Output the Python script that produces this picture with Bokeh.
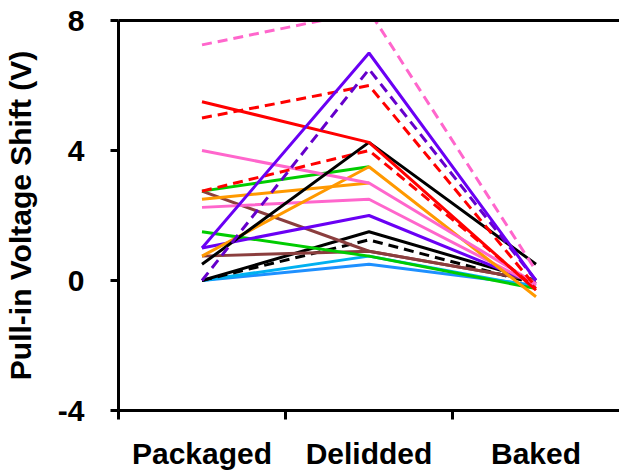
import math
from bokeh.plotting import figure
from bokeh.models import FixedTicker, LinearAxis, Range1d
from bokeh.embed import file_html
from bokeh.resources import INLINE

# ---- data -------------------------------------------------------------
categories = ["Packaged", "Delidded", "Baked"]
y_ticks = [-4, 0, 4, 8]
y_tick_labels = ["-4", "0", "4", "8"]
NaN = float("nan")

pink_dashed   = [7.25, 8.3, 0.3]
red_solid     = [5.5, 4.25, -0.3]
red_dashed_a  = [5.0, 6.0, -0.2]
pink_solid_a  = [4.0, 3.0, -0.1]
red_dashed_b  = [2.75, 4.0, -0.25]
green_a       = [2.75, 3.5, NaN]
brown_a       = [2.75, 0.9, 0.0]
orange_a      = [2.5, 3.0, NaN]
pink_solid_b  = [2.25, 2.5, -0.15]
green_b       = [1.5, 0.75, -0.25]
purple_a      = [1.0, 7.0, 0.0]
purple_b      = [1.0, 2.0, -0.1]
orange_b      = [0.75, 3.5, -0.5]
brown_b       = [0.75, 0.9, 0.0]
black_a       = [0.5, 4.25, 0.5]
purple_dashed = [0.0, 6.5, 0.0]
black_b       = [0.0, 1.5, 0.0]
black_dashed  = [0.0, 1.25, -0.1]
blue_a        = [0.0, 0.75, -0.2]
blue_b        = [0.0, 0.5, -0.15]

# ---- styles -----------------------------------------------------------
PINK = "#FF66CC"; RED = "#FF0000"; PURPLE = "#6A00F4"; PURPLE_D = "#6600CC"
GREEN = "#00CC00"; ORANGE = "#FF9900"; BROWN = "#8B3E3E"; BLACK = "#000000"
BLUE_A = "#00B0F0"; BLUE_B = "#1E90FF"
DASH = "10 6"

series = [
    (blue_b, BLUE_B, "solid"),
    (blue_a, BLUE_A, "solid"),
    (black_dashed, BLACK, DASH),
    (black_b, BLACK, "solid"),
    (brown_b, BROWN, "solid"),
    (green_b, GREEN, "solid"),
    (brown_a, BROWN, "solid"),
    (purple_b, PURPLE, "solid"),
    (pink_solid_b, PINK, "solid"),
    (orange_a, ORANGE, "solid"),
    (green_a, GREEN, "solid"),
    (orange_b, ORANGE, "solid"),
    (pink_solid_a, PINK, "solid"),
    (red_dashed_b, RED, DASH),
    (black_a, BLACK, "solid"),
    (red_solid, RED, "solid"),
    (red_dashed_a, RED, DASH),
    (purple_dashed, PURPLE_D, DASH),
    (purple_a, PURPLE, "solid"),
    (pink_dashed, PINK, DASH),
]

FONT = "Liberation Sans"
FS = "30px"

xs = [i + 0.5 for i in range(len(categories))]

p = figure(width=619, height=475,
           x_range=Range1d(0, len(categories)), y_range=Range1d(-4, 8),
           output_backend="svg", toolbar_location=None,
           min_border_left=118, min_border_right=0,
           min_border_top=20, min_border_bottom=65)
p.grid.visible = False
p.outline_line_color = None
p.background_fill_color = "white"
p.border_fill_color = "white"

for vals, color, dash in series:
    p.line(xs, vals, line_color=color, line_width=3, line_dash=dash)

# x axis
xa = p.xaxis[0]
xa.ticker = FixedTicker(ticks=xs, minor_ticks=list(range(len(categories))))
xa.major_label_overrides = {x: c for x, c in zip(xs, categories)}
xa.major_tick_line_color = None
xa.minor_tick_out = 9
xa.minor_tick_in = 0
xa.minor_tick_line_width = 3
xa.minor_tick_line_color = "black"
xa.axis_line_width = 3
xa.major_label_text_font = FONT
xa.major_label_text_font_style = "bold"
xa.major_label_text_font_size = FS
xa.major_label_text_color = "black"
xa.major_label_standoff = 17

# y axis
ya = p.yaxis[0]
ya.ticker = FixedTicker(ticks=y_ticks, minor_ticks=[])
ya.major_label_overrides = {t: s for t, s in zip(y_ticks, y_tick_labels)}
ya.major_tick_out = 8
ya.major_tick_in = 0
ya.major_tick_line_width = 3
ya.axis_line_width = 3
ya.major_label_text_font = FONT
ya.major_label_text_font_style = "bold"
ya.major_label_text_font_size = FS
ya.major_label_text_color = "black"
ya.major_label_standoff = 26
ya.axis_label = "Pull-in Voltage Shift (V)"
ya.axis_label_text_font = FONT
ya.axis_label_text_font_style = "bold"
ya.axis_label_text_font_size = FS
ya.axis_label_text_color = "black"
ya.axis_label_standoff = 18

# top border line
top = LinearAxis(ticker=FixedTicker(ticks=[], minor_ticks=[]),
                 major_label_text_font_size="0px",
                 axis_line_width=3, major_tick_line_color=None,
                 minor_tick_line_color=None)
p.add_layout(top, "above")

open("out.html", "w").write(file_html(p, INLINE))
